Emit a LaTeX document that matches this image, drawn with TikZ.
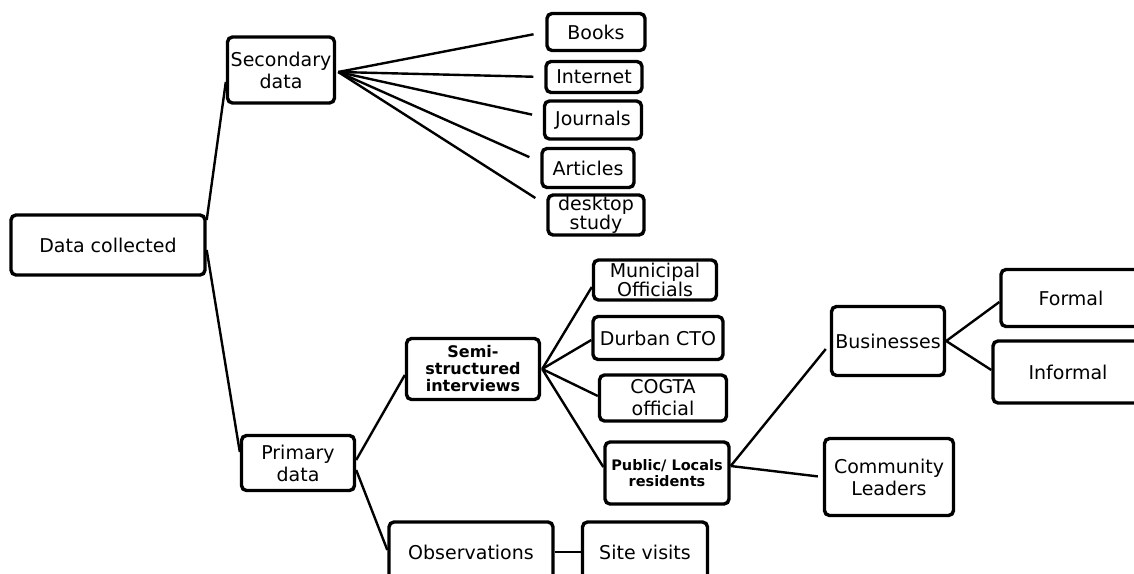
\documentclass[tikz,border=0pt]{standalone}
\usepackage{fontspec}
\setmainfont{DejaVu Sans}

\begin{document}
\begin{tikzpicture}
[x=1pt,y=-1pt,
box/.style={draw,line width=3.4pt,rounded corners=5pt,align=center,inner sep=0pt,font=\fontsize{19}{22}\selectfont},
small/.style={box,font=\fontsize{14.5}{16}\selectfont\bfseries},
link/.style={line width=2.4pt}]
\useasboundingbox (0,0) rectangle (1134,573);
% root and the two main branches
\node[box,minimum width=194pt,minimum height=60pt] (dc) at (108,245) {Data collected};
\node[box,minimum width=107pt,minimum height=66pt] (sec) at (281,70) {Secondary\\data};
\node[box,minimum width=113pt,minimum height=55pt] (pri) at (298,463) {Primary\\data};
% secondary sources
\node[box,minimum width=98pt,minimum height=37pt] (books) at (596,32) {Books};
\node[box,minimum width=96pt,minimum height=31pt] (inet) at (594,77) {Internet};
\node[box,minimum width=97pt,minimum height=38pt] (jour) at (593,120) {Journals};
\node[box,minimum width=92pt,minimum height=39pt] (art) at (588,168) {Articles};
\node[box,minimum width=96pt,minimum height=40pt,font=\fontsize{19}{19}\selectfont] (desk) at (596,215) {desktop\\study};
% primary sources
\node[small,minimum width=133pt,minimum height=61pt,font=\fontsize{16}{17}\selectfont\bfseries] (semi) at (473,369) {Semi-\\structured\\interviews};
\node[box,minimum width=164pt,minimum height=60pt] (obs) at (471,552) {Observations};
\node[box,minimum width=125pt,minimum height=60pt] (site) at (645,552) {Site visits};
\node[box,minimum width=123pt,minimum height=40pt,font=\fontsize{19}{19}\selectfont] (muni) at (655,280) {Municipal\\Officials};
\node[box,minimum width=130pt,minimum height=43pt] (cto) at (658,338) {Durban CTO};
\node[box,minimum width=127pt,minimum height=46pt] (cogta) at (663,398) {COGTA\\official};
\node[small,minimum width=124pt,minimum height=62pt] (pub) at (667,473) {Public/ Locals\\residents};
\node[box,minimum width=113pt,minimum height=69pt] (bus) at (888,341) {Businesses};
\node[box,minimum width=129pt,minimum height=77pt] (comm) at (889,477) {Community\\Leaders};
\node[box,minimum width=140pt,minimum height=57pt] (formal) at (1071,298) {Formal};
\node[box,minimum width=150pt,minimum height=62pt] (informal) at (1068,372) {Informal};
% connectors
\path[link] ([yshift=25pt]dc.east) edge ([yshift=-12pt]sec.west)
([yshift=-5pt]dc.east) edge ([yshift=11pt]pri.west);
\path[link] ([xshift=2pt,yshift=-2pt]sec.east) edge[shorten >=12pt] (books.west)
edge[shorten >=11pt] (inet.west)
edge[shorten >=11pt] ([yshift=3pt]jour.west)
edge[shorten >=12pt] ([yshift=6pt]art.west)
edge[shorten >=13pt] ([yshift=10pt]desk.west);
\path[link] ([yshift=3pt]pri.east) edge ([yshift=-6pt]semi.west)
([yshift=-7pt]pri.east) edge ([yshift=2pt]obs.west)
(obs.east) edge (site.west);
\path[link] ([xshift=1pt]semi.east) edge ([yshift=-7pt]muni.west)
edge ([yshift=-2pt]cto.west)
edge ([yshift=2pt]cogta.west)
edge ([yshift=6pt]pub.west);
\path[link] ([yshift=7pt]pub.east) edge ([xshift=-4pt,yshift=-8pt]bus.west)
edge[shorten >=5pt] (comm.west);
\path[link] (bus.east) edge ([yshift=-4pt]formal.west)
edge ([yshift=2pt]informal.west);
\end{tikzpicture}
\end{document}
